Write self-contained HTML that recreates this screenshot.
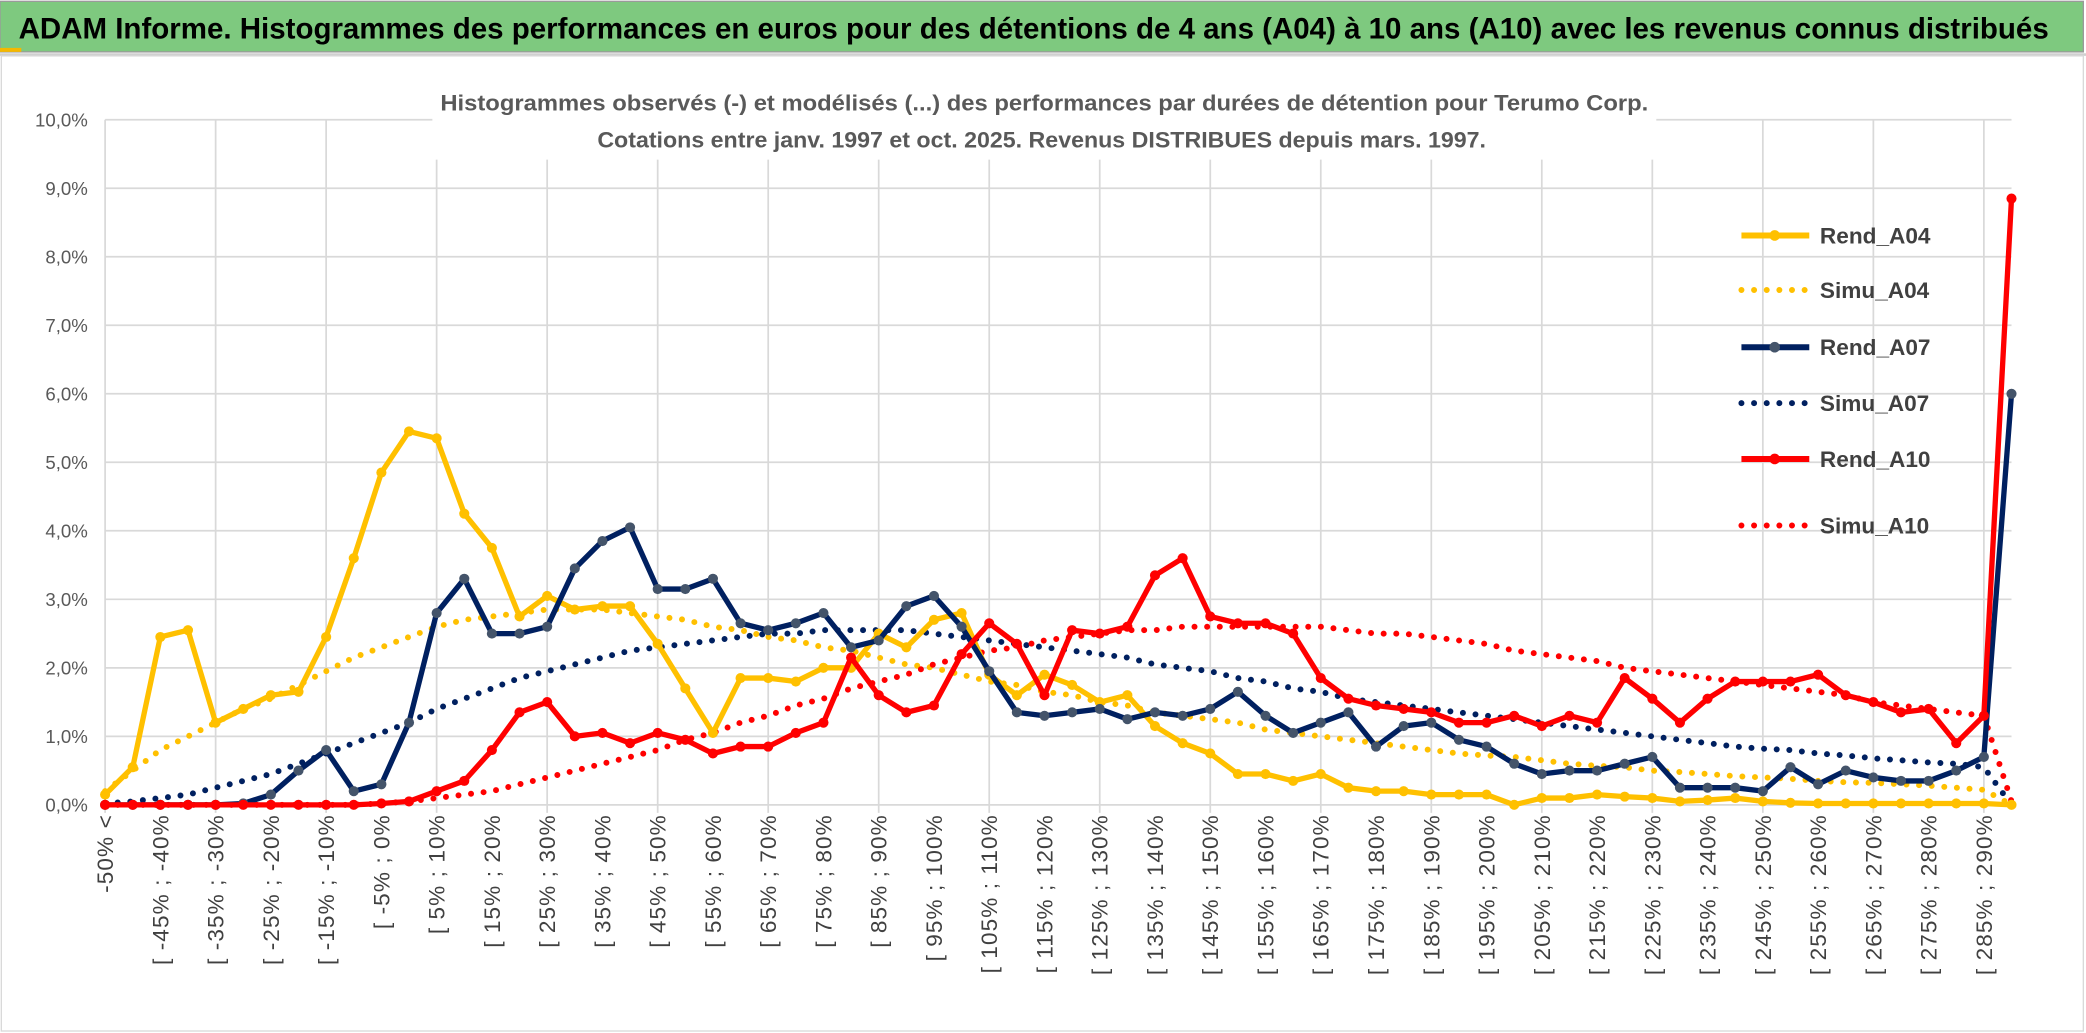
<!DOCTYPE html>
<html><head><meta charset="utf-8"><style>
html,body{margin:0;padding:0;background:#fff;}
svg{display:block;}
text{font-family:"Liberation Sans",sans-serif;}
</style></head><body>
<svg id="chart" width="2086" height="1033" viewBox="0 0 1568 776.5" preserveAspectRatio="none" xmlns="http://www.w3.org/2000/svg">
<rect x="0" y="0" width="1568" height="776.5" fill="#fff"/>
<rect x="0" y="1" width="1566" height="38" fill="#7ec97f" stroke="#9a9a9a" stroke-width="1"/>
<rect x="0" y="36" width="16" height="3" fill="#f5b800"/>
<line x1="0" y1="41" x2="1568" y2="41" stroke="#d0d0d0" stroke-width="2"/>
<text x="14" y="29" font-size="22" font-weight="bold" fill="#000" textLength="1526" lengthAdjust="spacingAndGlyphs">ADAM Informe. Histogrammes des performances en euros pour des détentions de 4 ans (A04) à 10 ans (A10) avec les revenus connus distribués</text>
<rect x="1" y="42" width="1565" height="733" fill="none" stroke="#d9d9d9" stroke-width="1"/>
<g id="grid"></g>
<g id="yaxis"></g>
<g id="xaxis"></g>
<g id="series"></g>
<rect x="325" y="62" width="920" height="58" fill="#fff"/>
<text x="785" y="83" font-size="17" font-weight="bold" fill="#595959" text-anchor="middle" textLength="908" lengthAdjust="spacingAndGlyphs">Histogrammes observés (-) et modélisés (...) des performances par durées de détention pour Terumo Corp.</text>
<text x="783" y="111" font-size="17" font-weight="bold" fill="#595959" text-anchor="middle" textLength="668" lengthAdjust="spacingAndGlyphs">Cotations entre janv. 1997 et oct. 2025. Revenus DISTRIBUES depuis mars. 1997.</text>
<g id="legend"></g>
</svg>
<script>
const categories = (function(){const c=["-50% <"];for(let i=1;i<=68;i++){const lo=-55+5*i;c.push("[ "+lo+"% ; "+(lo+5)+"%");}c.push("> 290%");return c;})();
const yTicks = [0,1,2,3,4,5,6,7,8,9,10];
const rendA04 = [0.15,0.55,2.45,2.55,1.2,1.4,1.6,1.65,2.45,3.6,4.85,5.45,5.35,4.25,3.75,2.75,3.05,2.85,2.9,2.9,2.35,1.7,1.05,1.85,1.85,1.8,2.0,2.0,2.5,2.3,2.7,2.8,1.9,1.6,1.9,1.75,1.5,1.6,1.15,0.9,0.75,0.45,0.45,0.35,0.45,0.25,0.2,0.2,0.15,0.15,0.15,0.0,0.1,0.1,0.15,0.12,0.1,0.05,0.07,0.1,0.05,0.03,0.02,0.02,0.02,0.02,0.02,0.02,0.02,0.0];
const simuA04 = [0.2,0.5,0.8,1.0,1.2,1.4,1.55,1.75,1.95,2.15,2.3,2.45,2.6,2.7,2.75,2.8,2.85,2.85,2.85,2.8,2.75,2.7,2.6,2.55,2.45,2.4,2.3,2.25,2.15,2.05,2.0,1.9,1.8,1.75,1.65,1.6,1.5,1.45,1.35,1.3,1.25,1.2,1.1,1.05,1.0,0.95,0.9,0.85,0.8,0.75,0.72,0.7,0.65,0.6,0.57,0.55,0.5,0.48,0.45,0.42,0.4,0.38,0.35,0.33,0.32,0.3,0.28,0.25,0.22,0.0];
const rendA07 = [0,0,0,0,0,0.02,0.15,0.5,0.8,0.2,0.3,1.2,2.8,3.3,2.5,2.5,2.6,3.45,3.85,4.05,3.15,3.15,3.3,2.65,2.55,2.65,2.8,2.3,2.4,2.9,3.05,2.6,1.95,1.35,1.3,1.35,1.4,1.25,1.35,1.3,1.4,1.65,1.3,1.05,1.2,1.35,0.85,1.15,1.2,0.95,0.85,0.6,0.45,0.5,0.5,0.6,0.7,0.25,0.25,0.25,0.2,0.55,0.3,0.5,0.4,0.35,0.35,0.5,0.7,6.0];
const simuA07 = [0.02,0.05,0.1,0.15,0.25,0.35,0.45,0.6,0.75,0.9,1.05,1.2,1.4,1.55,1.7,1.85,1.95,2.05,2.15,2.25,2.3,2.35,2.4,2.45,2.5,2.5,2.55,2.55,2.55,2.55,2.5,2.45,2.4,2.35,2.3,2.25,2.2,2.15,2.05,2.0,1.95,1.85,1.8,1.7,1.65,1.55,1.5,1.45,1.4,1.35,1.3,1.25,1.2,1.15,1.1,1.05,1.0,0.95,0.9,0.85,0.82,0.8,0.75,0.72,0.68,0.65,0.62,0.6,0.55,0.0];
const rendA10 = [0,0,0,0,0,0,0,0,0,0,0.02,0.05,0.2,0.35,0.8,1.35,1.5,1.0,1.05,0.9,1.05,0.95,0.75,0.85,0.85,1.05,1.2,2.15,1.6,1.35,1.45,2.2,2.65,2.35,1.6,2.55,2.5,2.6,3.35,3.6,2.75,2.65,2.65,2.5,1.85,1.55,1.45,1.4,1.35,1.2,1.2,1.3,1.15,1.3,1.2,1.85,1.55,1.2,1.55,1.8,1.8,1.8,1.9,1.6,1.5,1.35,1.4,0.9,1.3,8.85];
const simuA10 = [0,0,0,0,0,0,0,0,0,0,0.02,0.05,0.1,0.15,0.2,0.3,0.4,0.5,0.6,0.7,0.8,0.95,1.05,1.2,1.3,1.45,1.55,1.7,1.8,1.9,2.05,2.15,2.25,2.3,2.4,2.45,2.5,2.55,2.55,2.6,2.6,2.6,2.6,2.6,2.6,2.55,2.5,2.5,2.45,2.4,2.35,2.25,2.2,2.15,2.1,2.0,1.95,1.9,1.85,1.8,1.75,1.7,1.65,1.6,1.5,1.45,1.4,1.35,1.3,0.05];

const NS="http://www.w3.org/2000/svg";
const X0=79, X1=1512, Y0=605, Y10=90;
function xs(i){return X0+(X1-X0)*i/(categories.length-1);}
function ys(v){return Y0-(Y0-Y10)*v/10;}
function mk(tag,attrs,parent){const e=document.createElementNS(NS,tag);for(const k in attrs)e.setAttribute(k,attrs[k]);parent.appendChild(e);return e;}

const grid=document.getElementById('grid');
yTicks.forEach(t=>{
  const l=mk('line',{x1:X0,x2:X1,y1:ys(t),y2:ys(t),stroke:'#d9d9d9','stroke-width':1.3},grid);
  
  
});
for(let i=0;i<categories.length;i+=4){
  const l=mk('line',{x1:xs(i),x2:xs(i),y1:Y10,y2:Y0+6,stroke:'#d9d9d9','stroke-width':1.3},grid);
  
  
}
const yaxis=document.getElementById('yaxis');
yTicks.forEach(t=>{
  const e=mk('text',{x:66,y:ys(t)+5,'font-size':14,fill:'#595959','text-anchor':'end'},yaxis);
  e.textContent=t.toFixed(1).replace('.',',')+'%';
  
  
});
const xaxis=document.getElementById('xaxis');
for(let i=0;i<categories.length;i+=2){
  const x=xs(i)+6, y=612;
  const e=mk('text',{x:x,y:y,'font-size':17,'letter-spacing':0.8,fill:'#404040','text-anchor':'end',transform:'rotate(-90 '+x+' '+y+')'},xaxis);
  e.textContent=categories[i];
  
  
}
const ser=document.getElementById('series');
function pts(arr){return arr.map((v,i)=>xs(i).toFixed(1)+','+ys(v).toFixed(1)).join(' ');}
function dotted(arr,color,name){
  const p=mk('polyline',{points:pts(arr),fill:'none',stroke:color,'stroke-width':4.5,'stroke-linecap':'round','stroke-dasharray':'0 9.5'},ser);
  
  
}
function solid(arr,color,mcolor,name){
  const g=mk('g',{},ser);
  
  
  mk('polyline',{points:pts(arr),fill:'none',stroke:color,'stroke-width':4,'stroke-linejoin':'round'},g);
  arr.forEach((v,i)=>{
    const c=mk('circle',{cx:xs(i),cy:ys(v),r:3.8,fill:mcolor},g);
    
    
  });
}
dotted(simuA04,'#ffc000','simu-a04-line');
dotted(simuA07,'#002060','simu-a07-line');
dotted(simuA10,'#ff0000','simu-a10-line');
solid(rendA04,'#ffc000','#ffc000','rend-a04-line');
solid(rendA07,'#002060','#44546a','rend-a07-line');
solid(rendA10,'#ff0000','#ff0000','rend-a10-line');

const legend=document.getElementById('legend');
const leg=[['Rend_A04','#ffc000',false,177],['Simu_A04','#ffc000',true,218],['Rend_A07','#002060',false,261],['Simu_A07','#002060',true,303],['Rend_A10','#ff0000',false,345],['Simu_A10','#ff0000',true,395]];
leg.forEach(([n,c,d,y])=>{
  const g=mk('g',{},legend);
  
  
  const a={x1:1309,x2:1360,y1:y,y2:y,stroke:c,'stroke-width':4.5};
  if(d){a['stroke-dasharray']='0 9.5';a['stroke-linecap']='round';}
  mk('line',a,g);
  if(!d) mk('circle',{cx:1334,cy:y,r:4,fill:n==='Rend_A07'?'#44546a':c},g);
  const t=mk('text',{x:1368,y:y+6,'font-size':17,fill:'#404040','font-weight':'bold'},g);
  t.textContent=n;
});
</script>
</body></html>
